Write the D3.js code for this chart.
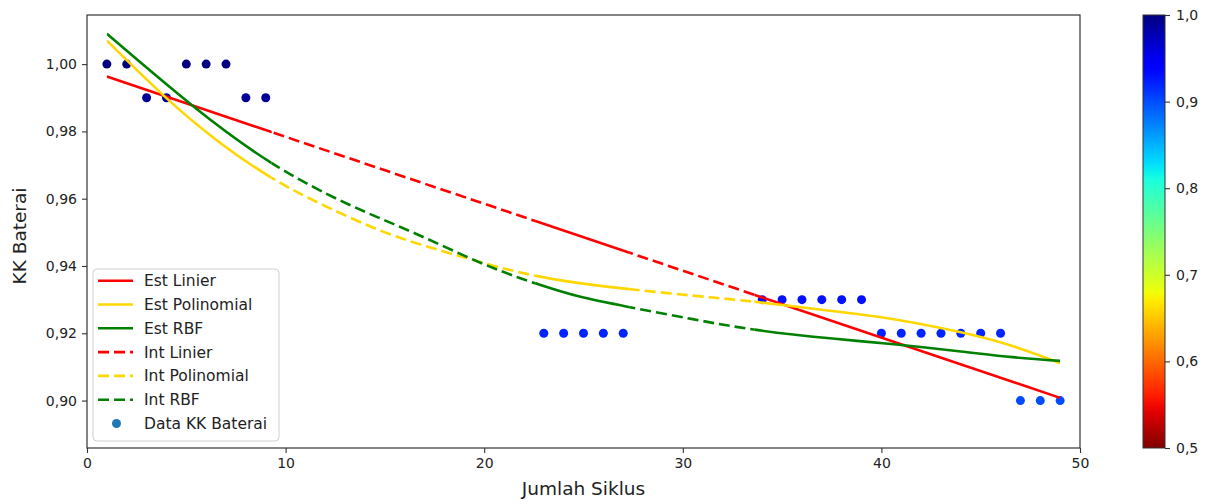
<!DOCTYPE html>
<html>
<head>
<meta charset="utf-8">
<script src="https://cdn.jsdelivr.net/npm/d3@7"></script>
<style>
  html, body { margin: 0; padding: 0; background: #fff; }
  svg { display: block; font-family: "DejaVu Sans", sans-serif; }
</style>
</head>
<body>
<svg id="chart" width="1205" height="504"></svg>
<script>
// data
var siklus = [1, 2, 3, 4, 5, 6, 7, 8, 9,
  23, 24, 25, 26, 27,
  34, 35, 36, 37, 38, 39,
  40, 41, 42, 43, 44, 45, 46,
  47, 48, 49];
var kkBaterai = [1.00, 1.00, 0.99, 0.99, 1.00, 1.00, 1.00, 0.99, 0.99,
  0.92, 0.92, 0.92, 0.92, 0.92,
  0.93, 0.93, 0.93, 0.93, 0.93, 0.93,
  0.92, 0.92, 0.92, 0.92, 0.92, 0.92, 0.92,
  0.90, 0.90, 0.90];

var linX = [1, 49];
var linY = [0.9963, 0.9008];
var polyX = [1, 4, 6.6, 9.3, 12, 15, 17.8, 20.2, 22.5, 24.8, 27.2, 30.5, 33.7, 37.4, 40.4, 44, 46.6, 49];
var polyY = [1.0070, 0.9899, 0.9771, 0.9662, 0.9578, 0.9500, 0.9446, 0.9405, 0.9372, 0.9349, 0.9332, 0.9312, 0.9293, 0.9267, 0.9244, 0.9203, 0.9162, 0.9111];
var rbfX = [1, 5.3, 9.3, 13.1, 16.4, 20, 22.8, 24.8, 27.2, 30.5, 33.7, 37.4, 40.5, 44, 46.6, 49];
var rbfY = [1.0090, 0.9877, 0.9706, 0.9585, 0.9500, 0.9405, 0.9344, 0.9309, 0.9279, 0.9242, 0.9210, 0.9185, 0.9168, 0.9146, 0.9129, 0.9118];

// where the estimate (solid) and interpolation (dashed) parts sit
var estRanges = [[1, 9.3], [22.6, 27.3], [33.6, 49]];
var intRanges = [[9.3, 22.6], [27.3, 33.6]];

var xTicks = [0, 10, 20, 30, 40, 50];
var yTicks = [0.90, 0.92, 0.94, 0.96, 0.98, 1.00];
var cbTicks = [0.5, 0.6, 0.7, 0.8, 0.9, 1.0];

var models = [
  {est: "Est Linier", int: "Int Linier", color: "#ff0000", xs: linX, ys: linY},
  {est: "Est Polinomial", int: "Int Polinomial", color: "#ffd700", xs: polyX, ys: polyY},
  {est: "Est RBF", int: "Int RBF", color: "#008000", xs: rbfX, ys: rbfY}
];

var pL = 87, pR = 1080, pT = 15, pB = 448;
var lw = 2.6, dash = "11,5";

var x = d3.scaleLinear().domain([0, 50]).range([pL, pR]);
var y = d3.scaleLinear().domain([0.8859, 1.0146]).range([pB, pT]);

// jet colormap (matplotlib segment data), reversed, vmin 0.5 vmax 1.0
var jr = d3.scaleLinear().domain([0, 0.35, 0.66, 0.89, 1]).range([0, 0, 1, 1, 0.5]).clamp(true);
var jg = d3.scaleLinear().domain([0, 0.125, 0.375, 0.64, 0.91, 1]).range([0, 0, 1, 1, 0, 0]).clamp(true);
var jb = d3.scaleLinear().domain([0, 0.11, 0.34, 0.65, 1]).range([0.5, 1, 1, 0, 0]).clamp(true);
function jet(t) {
  return d3.rgb(jr(t) * 255, jg(t) * 255, jb(t) * 255).toString();
}
var norm = d3.scaleLinear().domain([0.5, 1.0]).range([1, 0]).clamp(true);
function pointColor(v) { return jet(norm(v)); }

var comma = function (f) { return function (d) { return d3.format(f)(d).replace(".", ","); }; };

var svg = d3.select("#chart");
var defs = svg.append("defs");

function addClip(id, ranges) {
  var cp = defs.append("clipPath").attr("id", id);
  ranges.forEach(function (r) {
    cp.append("rect")
      .attr("x", x(r[0]))
      .attr("y", pT)
      .attr("width", x(r[1]) - x(r[0]))
      .attr("height", pB - pT);
  });
}
addClip("estClip", estRanges);
addClip("intClip", intRanges);

// scatter first, lines go on top like matplotlib
svg.append("g")
  .selectAll("circle")
  .data(siklus)
  .enter()
  .append("circle")
  .attr("cx", function (d) { return x(d); })
  .attr("cy", function (d, i) { return y(kkBaterai[i]); })
  .attr("r", 4.5)
  .attr("fill", function (d, i) { return pointColor(kkBaterai[i]); });

var line = d3.line()
  .x(function (d) { return x(d[0]); })
  .y(function (d) { return y(d[1]); })
  .curve(d3.curveNatural);

var lines = svg.append("g").attr("fill", "none").attr("stroke-width", lw);
models.forEach(function (m) {
  var pts = m.xs.map(function (v, i) { return [v, m.ys[i]]; });
  lines.append("path")
    .attr("d", line(pts))
    .attr("stroke", m.color)
    .attr("clip-path", "url(#estClip)");
});
models.forEach(function (m) {
  var pts = m.xs.map(function (v, i) { return [v, m.ys[i]]; });
  lines.append("path")
    .attr("d", line(pts))
    .attr("stroke", m.color)
    .attr("stroke-dasharray", dash)
    .attr("clip-path", "url(#intClip)");
});

// axes
var xAxis = svg.append("g")
  .attr("transform", "translate(0," + pB + ")")
  .call(d3.axisBottom(x).tickValues(xTicks).tickSize(5).tickPadding(5).tickFormat(d3.format("d")));
var yAxis = svg.append("g")
  .attr("transform", "translate(" + pL + ",0)")
  .call(d3.axisLeft(y).tickValues(yTicks).tickSize(5).tickPadding(5).tickFormat(comma(".2f")));

[xAxis, yAxis].forEach(function (a) {
  a.select(".domain").remove();
  a.selectAll("line").attr("stroke", "#333").attr("stroke-width", 1.1);
  a.selectAll("text").attr("fill", "#222").style("font-size", "14px").style("font-family", "DejaVu Sans");
});

svg.append("rect")
  .attr("x", pL).attr("y", pT)
  .attr("width", pR - pL).attr("height", pB - pT)
  .attr("fill", "none").attr("stroke", "#333").attr("stroke-width", 1.2);

svg.append("text")
  .attr("x", (pL + pR) / 2)
  .attr("y", 495)
  .attr("text-anchor", "middle")
  .attr("fill", "#222")
  .style("font-size", "18.5px")
  .text("Jumlah Siklus");

svg.append("text")
  .attr("transform", "translate(26,236) rotate(-90)")
  .attr("text-anchor", "middle")
  .attr("fill", "#222")
  .style("font-size", "18.5px")
  .text("KK Baterai");

// legend
var lg = svg.append("g").attr("transform", "translate(93,269)");
lg.append("rect")
  .attr("width", 186).attr("height", 172)
  .attr("rx", 4)
  .attr("fill", "#fff").attr("fill-opacity", 0.8)
  .attr("stroke", "#d0d0d0");

var entries = models.map(function (m) { return {label: m.est, color: m.color, dashed: false}; })
  .concat(models.map(function (m) { return {label: m.int, color: m.color, dashed: true}; }));
entries.push({label: "Data KK Baterai", color: "#1f77b4", dot: true});

var rowH = 23.8;
entries.forEach(function (e, i) {
  var cy = 11.7 + i * rowH;
  if (e.dot) {
    lg.append("circle").attr("cx", 23.5).attr("cy", cy).attr("r", 4.5).attr("fill", e.color);
  } else {
    lg.append("line")
      .attr("x1", 5).attr("x2", 40)
      .attr("y1", cy).attr("y2", cy)
      .attr("stroke", e.color).attr("stroke-width", lw)
      .attr("stroke-dasharray", e.dashed ? dash : null);
  }
  lg.append("text")
    .attr("x", 51).attr("y", cy)
    .attr("dy", "0.36em")
    .attr("fill", "#222")
    .style("font-size", "15.5px")
    .text(e.label);
});

// colorbar
var cbLeft = 1143, cbRight = 1165;
var grad = defs.append("linearGradient")
  .attr("id", "jetGrad")
  .attr("x1", 0).attr("y1", 0).attr("x2", 0).attr("y2", 1);
d3.range(0, 1.0001, 0.02).forEach(function (t) {
  grad.append("stop").attr("offset", t).attr("stop-color", jet(t));
});
svg.append("rect")
  .attr("x", cbLeft).attr("y", pT)
  .attr("width", cbRight - cbLeft).attr("height", pB - pT)
  .attr("fill", "url(#jetGrad)")
  .attr("stroke", "#333").attr("stroke-width", 1);

var cbScale = d3.scaleLinear().domain([0.5, 1.0]).range([pB, pT]);
var cbAxis = svg.append("g")
  .attr("transform", "translate(" + cbRight + ",0)")
  .call(d3.axisRight(cbScale).tickValues(cbTicks).tickSize(5).tickPadding(6).tickFormat(comma(".1f")));
cbAxis.select(".domain").remove();
cbAxis.selectAll("line").attr("stroke", "#333").attr("stroke-width", 1.1);
cbAxis.selectAll("text").attr("fill", "#222").style("font-size", "14px").style("font-family", "DejaVu Sans");
</script>
</body>
</html>
